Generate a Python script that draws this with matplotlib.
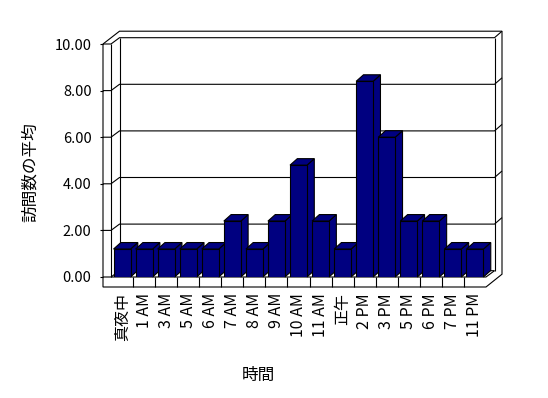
import matplotlib
matplotlib.use('Agg')
import matplotlib.pyplot as plt
from matplotlib.patches import Polygon
from matplotlib.ticker import FormatStrFormatter

plt.rcParams['font.family'] = ['Noto Sans CJK JP', 'DejaVu Sans']

# データ
hours = ['真夜中', '1 AM', '3 AM', '5 AM', '6 AM', '7 AM', '8 AM', '9 AM', '10 AM',
         '11 AM', '正午', '2 PM', '3 PM', '5 PM', '6 PM', '7 PM', '11 PM']
visits = [1.2, 1.2, 1.2, 1.2, 1.2, 2.4, 1.2, 2.4, 4.8, 2.4, 1.2, 8.4, 6.0, 2.4, 2.4, 1.2, 1.2]
yticks = [0, 2, 4, 6, 8, 10]

navy = '#000080'
W, H = 548, 398
n = len(hours)

fig = plt.figure(figsize=(W / 100, H / 100), dpi=100)
ax = fig.add_axes([111 / W, (H - 277) / H, 375 / W, 233 / H])
ax.set_xlim(-0.5, n - 0.5)
ax.set_ylim(0, 10)
ax.patch.set_visible(False)

# 画素 -> データ単位
ux = 375 / n
uy = 233 / 10
DX, DY = 8.5 / ux, 6.3 / uy     # 奥行き
BX, BY = 7.5 / ux, 6.5 / uy     # 後ろの壁の厚さ
BDX, BDY = 7.3 / ux, 6.5 / uy   # 棒の奥行き
LW = 8 / ux                     # 左の壁の厚さ
FT = 10 / uy                    # 床の厚さ
L, R = -0.5, n - 0.5


def poly(pts, fc='white', z=1):
    ax.add_patch(Polygon(pts, closed=True, fc=fc, ec='black', lw=0.8,
                         clip_on=False, zorder=z, joinstyle='miter'))


def line(xs, ys, z=1.5):
    ax.plot(xs, ys, color='black', lw=0.8, clip_on=False, zorder=z,
            solid_capstyle='butt')


# 壁と床
poly([(L - LW, -FT), (L - LW, 10), (L + DX, 10 + DY + BY), (R + DX + BX, 10 + DY + BY),
      (R + DX + BX, -FT + DY + BY), (R, -FT)])
for v in yticks[1:]:
    line([L - LW, L, L + DX, R + DX, R + DX + BX], [v, v, v + DY, v + DY, v + DY + BY])
line([L - LW, R, R + DX], [0, 0, DY])
line([L, L + DX, R + DX], [0, DY, DY])
line([L, L], [0, 10])
line([L + DX, L + DX], [DY, 10 + DY])
line([R + DX, R + DX], [DY, 10 + DY])
for k in range(1, n):
    line([k - 0.5, k - 0.5], [0, -FT])

# 棒
bw = 0.77
bars = ax.bar(range(n), visits, width=bw, color=navy, edgecolor='black', lw=0.8)
for i, (b, v) in enumerate(zip(bars, visits)):
    b.set_zorder(4 + 2 * i + 1)
    x0, x1 = i - bw / 2, i + bw / 2
    poly([(x1, 0), (x1 + BDX, BDY), (x1 + BDX, v + BDY), (x1, v)], fc=navy, z=4 + 2 * i)
    poly([(x0, v), (x0 + BDX, v + BDY), (x1 + BDX, v + BDY), (x1, v)], fc=navy, z=4 + 2 * i)

for s in ax.spines.values():
    s.set_visible(False)
ax.spines['left'].set_position(('outward', 8 * 0.72))
ax.set_yticks(yticks)
ax.yaxis.set_major_formatter(FormatStrFormatter('%.2f'))
ax.tick_params(axis='y', direction='out', length=2.2, width=0.8, pad=6, labelsize=10.5)
ax.set_xticks(range(n))
ax.set_xticklabels(hours, rotation=90)
ax.tick_params(axis='x', length=0, pad=11.5, labelsize=11.5)

fig.text(30 / W, 1 - 172 / H, '訪問数の平均', rotation=90, ha='center', va='center', fontsize=12)
fig.text(258 / W, 1 - 375 / H, '時間', ha='center', va='center', fontsize=12)

fig.savefig('out.png', dpi=100)
